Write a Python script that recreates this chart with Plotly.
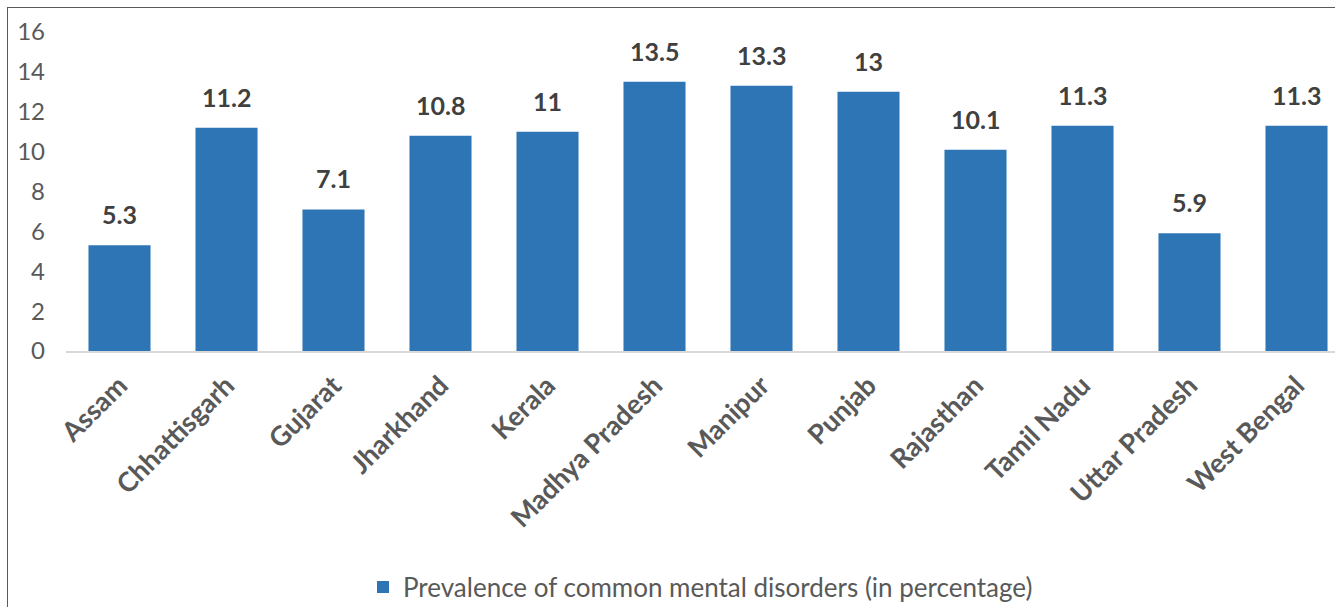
import plotly.graph_objects as go

states = ["Assam", "Chhattisgarh", "Gujarat", "Jharkhand", "Kerala", "Madhya Pradesh",
          "Manipur", "Punjab", "Rajasthan", "Tamil Nadu", "Uttar Pradesh", "West Bengal"]
prevalence = [5.3, 11.2, 7.1, 10.8, 11, 13.5, 13.3, 13, 10.1, 11.3, 5.9, 11.3]
series_name = "Prevalence of common mental disorders (in percentage)"
y_ticks = [0, 2, 4, 6, 8, 10, 12, 14, 16]

W, H = 1335, 607
ML, MR, MT, MB = 66, 0, 32, 256
pw = W - ML - MR
ph = H - MT - MB

fig = go.Figure()
fig.add_trace(go.Bar(
    x=states, y=prevalence, name=series_name,
    marker=dict(color="#2E75B6", line=dict(width=0)),
    width=0.58, showlegend=True,
))

for s, v in zip(states, prevalence):
    fig.add_annotation(x=s, y=v, text=f"<b>{v:g}</b>", showarrow=False,
                       yanchor="bottom", yshift=14,
                       font=dict(family="Lato", size=25, color="#404040"))

def px2x(p):
    return (p - ML) / pw

def py2y(p):
    return (H - MB - p) / ph

# outer chart border (top and left visible)
fig.add_shape(type="line", xref="paper", yref="paper",
              x0=px2x(7), x1=px2x(1340), y0=py2y(7.5), y1=py2y(7.5),
              line=dict(color="#595959", width=1))
fig.add_shape(type="line", xref="paper", yref="paper",
              x0=px2x(7.5), x1=px2x(7.5), y0=py2y(7), y1=py2y(610),
              line=dict(color="#595959", width=1))

fig.update_layout(
    width=W, height=H,
    margin=dict(l=ML, r=MR, t=MT, b=MB, autoexpand=False),
    plot_bgcolor="white", paper_bgcolor="white",
    font=dict(family="Lato", color="#595959"),
    xaxis=dict(range=[-0.5, -0.5 + pw / 107.0], tickangle=-45,
               tickfont=dict(size=27, color="#595959", family="Lato"),
               showline=True, linecolor="#D9D9D9", linewidth=2,
               ticks="", showgrid=False, fixedrange=True, ticklabelstandoff=6),
    yaxis=dict(range=[0, 16], tickvals=y_ticks, showgrid=False, zeroline=False,
               showline=False, ticks="", ticklabelstandoff=20,
               tickfont=dict(size=24, color="#595959", family="Lato")),
    legend=dict(orientation="h", x=0.5, xanchor="center", y=py2y(587), yanchor="middle",
                font=dict(size=26, color="#595959", family="Lato"),
                itemwidth=30, bgcolor="rgba(0,0,0,0)"),
)
fig.update_xaxes(tickprefix="<b>", ticksuffix="</b>")

fig.write_html("out.html")
